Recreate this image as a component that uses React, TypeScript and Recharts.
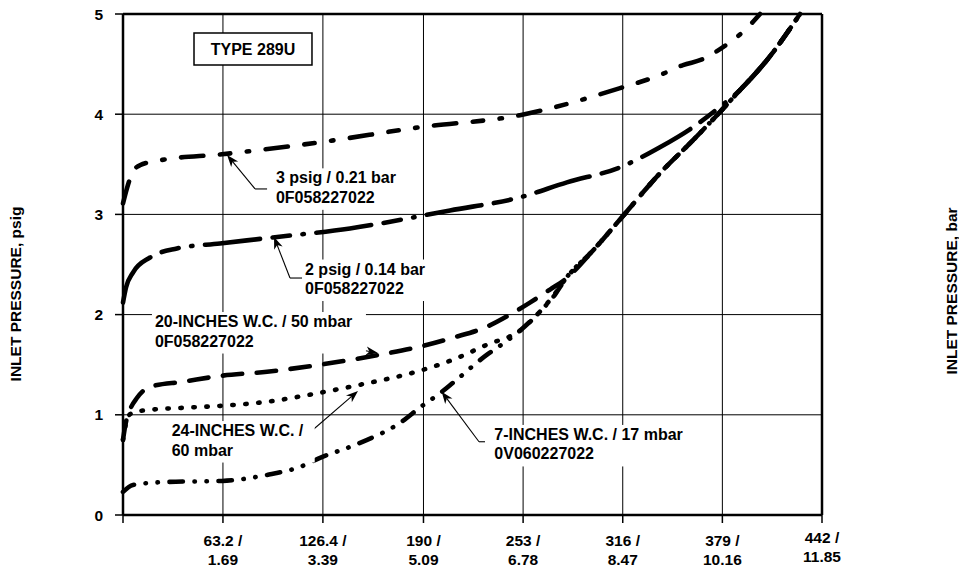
import React from 'react';
import {
  LineChart,
  Line,
  XAxis,
  YAxis,
  CartesianGrid,
  ReferenceLine,
  ReferenceDot,
  ReferenceArea,
} from 'recharts';

// Flow (SCFH) on x, inlet pressure (psig) on y
const flow3psig = [0, 2.5, 4.5, 6.3, 10.7, 23.4, 62.6, 124.6, 187.8, 251, 314.3, 339.5, 354.1, 366.7, 379.4, 393.3, 402.8];
const inlet3psig = [3.11, 3.26, 3.36, 3.43, 3.49, 3.54, 3.6, 3.72, 3.87, 3.99, 4.26, 4.39, 4.49, 4.55, 4.67, 4.84, 5.0];

const flow2psig = [0, 1.9, 6.3, 17.1, 34.1, 61.3, 94.8, 143.5, 206.8, 251, 280.7, 314.3, 339.5, 360.4, 375.6, 390.1, 407.2, 428.1];
const inlet2psig = [2.12, 2.27, 2.42, 2.57, 2.66, 2.71, 2.77, 2.86, 3.04, 3.17, 3.32, 3.47, 3.67, 3.87, 4.05, 4.24, 4.54, 5.0];

const flow20in = [0, 1.5, 4.4, 8.9, 17.1, 37.9, 62.6, 91.1, 124.6, 162.5, 187.8, 208.7, 230.2, 244.7, 257.3, 270, 279.5, 297.2, 314.3, 339.5, 360.4, 375.6, 390.1, 407.2, 428.1];
const inlet20in = [0.75, 0.9, 1.05, 1.17, 1.28, 1.33, 1.39, 1.43, 1.5, 1.6, 1.68, 1.77, 1.88, 2.0, 2.12, 2.25, 2.35, 2.64, 2.95, 3.41, 3.74, 3.99, 4.24, 4.54, 5.0];

const flow24in = [0, 2, 4, 8, 17.1, 37.9, 62.6, 91.1, 124.6, 149.9, 187.8, 208.7, 230.2, 251, 263.7, 273.2, 279.5, 297.2, 314.3, 339.5, 360.4, 375.6, 390.1, 407.2, 428.1];
const inlet24in = [0.75, 0.92, 1.0, 1.03, 1.05, 1.07, 1.09, 1.13, 1.22, 1.3, 1.44, 1.55, 1.7, 1.84, 2.03, 2.21, 2.35, 2.64, 2.95, 3.41, 3.74, 3.99, 4.24, 4.54, 5.0];

const flow7in = [0, 6.3, 27.8, 62.6, 91.1, 111.9, 124.6, 149.9, 175.2, 188.4, 201.7, 208.7, 230.2, 240.3, 251, 263.7, 273.2, 279.5, 297.2, 314.3, 339.5, 360.4, 375.6, 390.1, 407.2, 428.1];
const inlet7in = [0.23, 0.3, 0.33, 0.34, 0.4, 0.48, 0.57, 0.72, 0.92, 1.08, 1.23, 1.32, 1.6, 1.71, 1.84, 2.03, 2.2, 2.35, 2.64, 2.95, 3.41, 3.74, 3.99, 4.24, 4.54, 5.0];

const xTicks = [0, 63.2, 126.4, 190, 253, 316, 379, 442];
const xTickScfh = ['', '63.2 /', '126.4 /', '190 /', '253 /', '316 /', '379 /', '442 /'];
const xTickNm3 = ['', '1.69', '3.39', '5.09', '6.78', '8.47', '10.16', '11.85'];
const psigTicks = [0, 1, 2, 3, 4, 5];
const barTicks = ['0', '0.07', '0.14', '0.21', '0.28', '0.34'];

const zip = (xs: number[], ys: number[]) => xs.map((x, i) => ({ x, y: ys[i] }));

const FONT = '"Liberation Sans", Arial, Helvetica, sans-serif';
const W = 4.6;

const series = [
  { key: '3psig', data: zip(flow3psig, inlet3psig), dash: '22.4 16.6 10.4 16.6 2.4 16.6' },
  { key: '2psig', data: zip(flow2psig, inlet2psig), dash: '55.4 12.6 17.4 12.6 1.4 12.6' },
  { key: '20in', data: zip(flow20in, inlet20in), dash: '19.4 14.6' },
  { key: '24in', data: zip(flow24in, inlet24in), dash: '1.4 11.6' },
  { key: '7in', data: zip(flow7in, inlet7in), dash: '13.4 11.6 0.4 11.6 0.4 11.6' },
];

// callouts: text anchor (left/baseline) and leader polyline, in chart units
const notes = [
  { lines: ['3 psig / 0.21 bar', '0F058227022'], at: [96.7, 3.31], w: 134, leader: [[91.1, 3.254], [83.5, 3.254], [65.8, 3.593]] },
  { lines: ['2 psig / 0.14 bar', '0F058227022'], at: [115.1, 2.4], w: 134, leader: [[113.8, 2.365], [105.6, 2.365], [95.5, 2.774]] },
  { lines: ['20-INCHES W.C. / 50 mbar', '0F058227022'], at: [20.2, 1.876], w: 214, leader: [[88.6, 1.824], [161.2, 1.617]] },
  { lines: ['24-INCHES W.C. /', '60 mbar'], at: [30.8, 0.788], w: 146, leader: [[94.8, 0.679], [107.5, 0.679], [148.6, 1.238]] },
  { lines: ['7-INCHES W.C. / 17 mbar', '0V060227022'], at: [234.8, 0.749], w: 208, leader: [[228.9, 0.731], [225.1, 0.731], [201.5, 1.231]] },
];

const tickStyle = { fontFamily: FONT, fontWeight: 'bold' as const, fontSize: 15.5, fill: '#000' };
const noteStyle = { ...tickStyle, fontSize: 16 };

const XTick = (props: any) => {
  const { x, y, payload } = props;
  const i = xTicks.indexOf(payload.value);
  const lift = i === xTicks.length - 1 ? -3 : 0;
  return (
    <g>
      <text x={x} y={y + 23 + lift} textAnchor="middle" {...tickStyle}>{xTickScfh[i]}</text>
      <text x={x} y={y + 42 + lift} textAnchor="middle" {...tickStyle}>{xTickNm3[i]}</text>
    </g>
  );
};

const LeftTick = (props: any) => {
  const { x, y, payload } = props;
  return (
    <text x={x} y={y} dy="0.36em" textAnchor="end" {...tickStyle}>{payload.value}</text>
  );
};

const RightTick = (props: any) => {
  const { x, y, payload } = props;
  return (
    <text x={x + 23} y={y} dy="0.36em" textAnchor="middle" {...tickStyle}>
      {barTicks[psigTicks.indexOf(payload.value)]}
    </text>
  );
};

const NoteLabel = ({ cx, cy, lines, w }: any) => (
  <g>
    <rect x={cx - 3} y={cy - 15} width={w} height={15 + (lines.length - 1) * 19.5 + 7} fill="#fff" />
    {lines.map((t: string, i: number) => (
      <text key={i} x={cx} y={cy + i * 19.5} {...noteStyle}>{t}</text>
    ))}
  </g>
);

const leaderShape = (arrow: boolean) => (p: any) => {
  const { x1, y1, x2, y2 } = p;
  const a = Math.atan2(y2 - y1, x2 - x1);
  const c = Math.cos(a);
  const s = Math.sin(a);
  const L = 12;
  const H = 4.5;
  const pts = [
    [x2, y2],
    [x2 - L * c - H * s, y2 - L * s + H * c],
    [x2 - 0.72 * L * c, y2 - 0.72 * L * s],
    [x2 - L * c + H * s, y2 - L * s - H * c],
  ];
  return (
    <g>
      <line x1={x1} y1={y1} x2={arrow ? x2 - 0.7 * L * c : x2} y2={arrow ? y2 - 0.7 * L * s : y2} stroke="#000" strokeWidth={1.1} />
      {arrow && <polygon points={pts.map((q) => q.join(',')).join(' ')} fill="#000" />}
    </g>
  );
};

export default function App() {
  return (
    <div style={{ position: 'absolute', left: 0, top: 0, width: 959, height: 567, background: '#fff', fontFamily: FONT }}>
      <LineChart width={959} height={567} margin={{ top: 14, right: 77, bottom: 0, left: 63 }}>
        <CartesianGrid stroke="#000" strokeWidth={1} />
        <XAxis
          dataKey="x"
          type="number"
          domain={[0, 442]}
          ticks={xTicks}
          height={52}
          tickSize={8}
          tickMargin={0}
          tick={<XTick />}
          interval={0}
          axisLine={{ stroke: '#000', strokeWidth: 2.5 }}
          tickLine={{ stroke: '#000', strokeWidth: 1.5 }}
        />
        <YAxis
          type="number"
          domain={[0, 5]}
          ticks={psigTicks}
          width={60}
          tickSize={8}
          tickMargin={12}
          tick={<LeftTick />}
          interval={0}
          axisLine={{ stroke: '#000', strokeWidth: 2.5 }}
          tickLine={{ stroke: '#000', strokeWidth: 1.5 }}
        />
        <YAxis
          yAxisId="right"
          orientation="right"
          type="number"
          domain={[0, 5]}
          ticks={psigTicks}
          width={60}
          tickSize={8}
          tickMargin={0}
          tick={<RightTick />}
          interval={0}
          axisLine={{ stroke: '#000', strokeWidth: 2.5 }}
          tickLine={{ stroke: '#000', strokeWidth: 1.5 }}
        />
        <ReferenceLine y={5} stroke="#000" strokeWidth={2.5} />

        <ReferenceArea
          x1={44.9}
          x2={119.5}
          y1={4.49}
          y2={4.81}
          fill="#fff"
          fillOpacity={1}
          stroke="#000"
          strokeWidth={1.5}
          label={{ value: 'TYPE 289U', position: 'center', fill: '#000', fontSize: 16, fontWeight: 'bold', fontFamily: FONT }}
        />

        {notes.map((n, i) => (
          <ReferenceDot
            key={'note' + i}
            x={n.at[0]}
            y={n.at[1]}
            r={0}
            shape={(p: any) => <NoteLabel cx={p.cx} cy={p.cy} lines={n.lines} w={n.w} />}
          />
        ))}
        {notes.map((n) =>
          n.leader.slice(1).map((pt, j) => (
            <ReferenceLine
              key={n.lines[0] + j}
              segment={[
                { x: n.leader[j][0], y: n.leader[j][1] },
                { x: pt[0], y: pt[1] },
              ]}
              shape={leaderShape(j === n.leader.length - 2)}
            />
          ))
        )}

        {series.map((s) => (
          <Line
            key={s.key}
            data={s.data}
            dataKey="y"
            type="monotone"
            stroke="#000"
            strokeWidth={W}
            strokeDasharray={s.dash}
            strokeLinecap="round"
            dot={false}
            activeDot={false}
            isAnimationActive={false}
          />
        ))}

        <text transform="translate(20.5,294) rotate(-90)" textAnchor="middle" {...tickStyle}>
          INLET PRESSURE, psig
        </text>
        <text transform="translate(957,291) rotate(-90)" textAnchor="middle" {...tickStyle}>
          INLET PRESSURE, bar
        </text>
      </LineChart>
    </div>
  );
}
